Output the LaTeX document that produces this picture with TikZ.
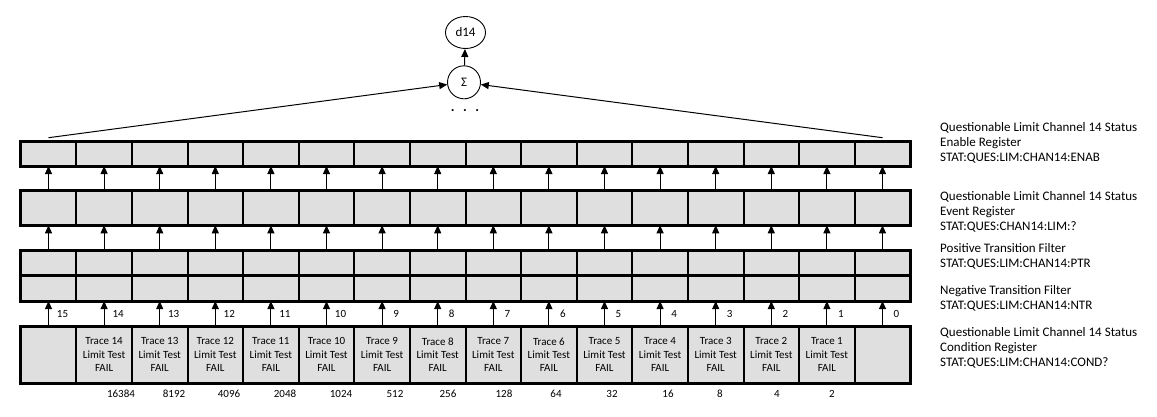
\documentclass[tikz,border=0pt]{standalone}
\usepackage{fontspec}
\setmainfont{Carlito}
\usepackage{tikz}
\usetikzlibrary{shapes,arrows.meta}
\newcommand{\regrow}[3]{
  \foreach \k in {0,...,15}
    \node[cell, minimum height=#3] (#1\k) at (48.5+55.6*\k,#2) {};
  \draw[frame] (#10.north west) rectangle (#115.south east);
}
\tikzset{
  cell/.style     = {draw, fill=gray!25, line width=2pt, inner sep=0pt,
                     outer sep=0pt, minimum width=55.6pt},
  frame/.style    = {line width=3pt},
  up/.style       = {-{Triangle[length=8pt,width=7pt]}, line width=1pt},
  ring/.style     = {draw, circle, line width=0.9pt, inner sep=0pt,
                     font=\fontsize{13}{15}\selectfont},
  small/.style    = {font=\fontsize{11}{13.3}\selectfont, inner sep=0pt},
  infotext/.style = {anchor=west, align=left, inner sep=0pt,
                     font=\fontsize{13}{15}\selectfont}
}
\begin{document}
\begin{tikzpicture}[x=1pt,y=-1pt]
	\useasboundingbox (0,0) rectangle (1157,416);
	% registers
	\regrow{E}{153.5}{25pt}
	\regrow{V}{208}{34.5pt}
	\regrow{P}{263.2}{25pt}
	\regrow{N}{288.4}{25.3pt}
	\regrow{C}{354.7}{57.3pt}
	\foreach \k in {1,...,14}{
		\pgfmathtruncatemacro\t{15-\k}
		\node[small, align=center] at (C\k) {Trace \t\\Limit Test\\FAIL};
	}
	% summing
	\node[ring, minimum size=33pt] (S) at (464,82.3) {Σ};
	\node[ring, ellipse, minimum width=40pt, minimum height=32pt] (D) at (465.5,32.5) {d14};
	\node[inner sep=0pt, font=\bfseries\fontsize{14}{15}\selectfont] (dots) at (465,111) {.\hspace{8.5pt}.\hspace{8.5pt}.};
	\draw[up] (S) -- (D);
	\coordinate (L) at ([yshift=3.3pt]E0.north);
	\coordinate (R) at ([yshift=3.3pt]E15.north);
	\draw[up] (L) -- (S);
	\draw[up] (R) -- (S);
	% bits
	\foreach \k in {0,...,15}{
		\pgfmathtruncatemacro\b{15-\k}
		\draw[up] (V\k.north) -- (E\k.south);
		\draw[up] (P\k.north) -- (V\k.south);
		\draw[up] (C\k.north) -- node[small, xshift=14pt] {\b} (N\k.south);
	}
	\foreach \v/\x in {16384/121,8192/174,4096/229,2048/285,1024/341,512/395,256/448,
	                   128/504,64/556,32/612,16/668,8/720,4/777,2/832}
		\node[small] (W\v) at (\x,394) {\v};
	% register names
	\node[infotext] (tE) at (940,143.3) {Questionable Limit Channel 14 Status\\Enable Register\\STAT:QUES:LIM:CHAN14:ENAB};
	\node[infotext] (tV) at (940,211.7) {Questionable Limit Channel 14 Status\\Event Register\\STAT:QUES:CHAN14:LIM:?};
	\node[infotext] (tP) at (940,256.7) {Positive Transition Filter\\STAT:QUES:LIM:CHAN14:PTR};
	\node[infotext] (tN) at (940,298.5) {Negative Transition Filter\\STAT:QUES:LIM:CHAN14:NTR};
	\node[infotext] (tC) at (940,348.3) {Questionable Limit Channel 14 Status\\Condition Register\\STAT:QUES:LIM:CHAN14:COND?};
\end{tikzpicture}
\end{document}
